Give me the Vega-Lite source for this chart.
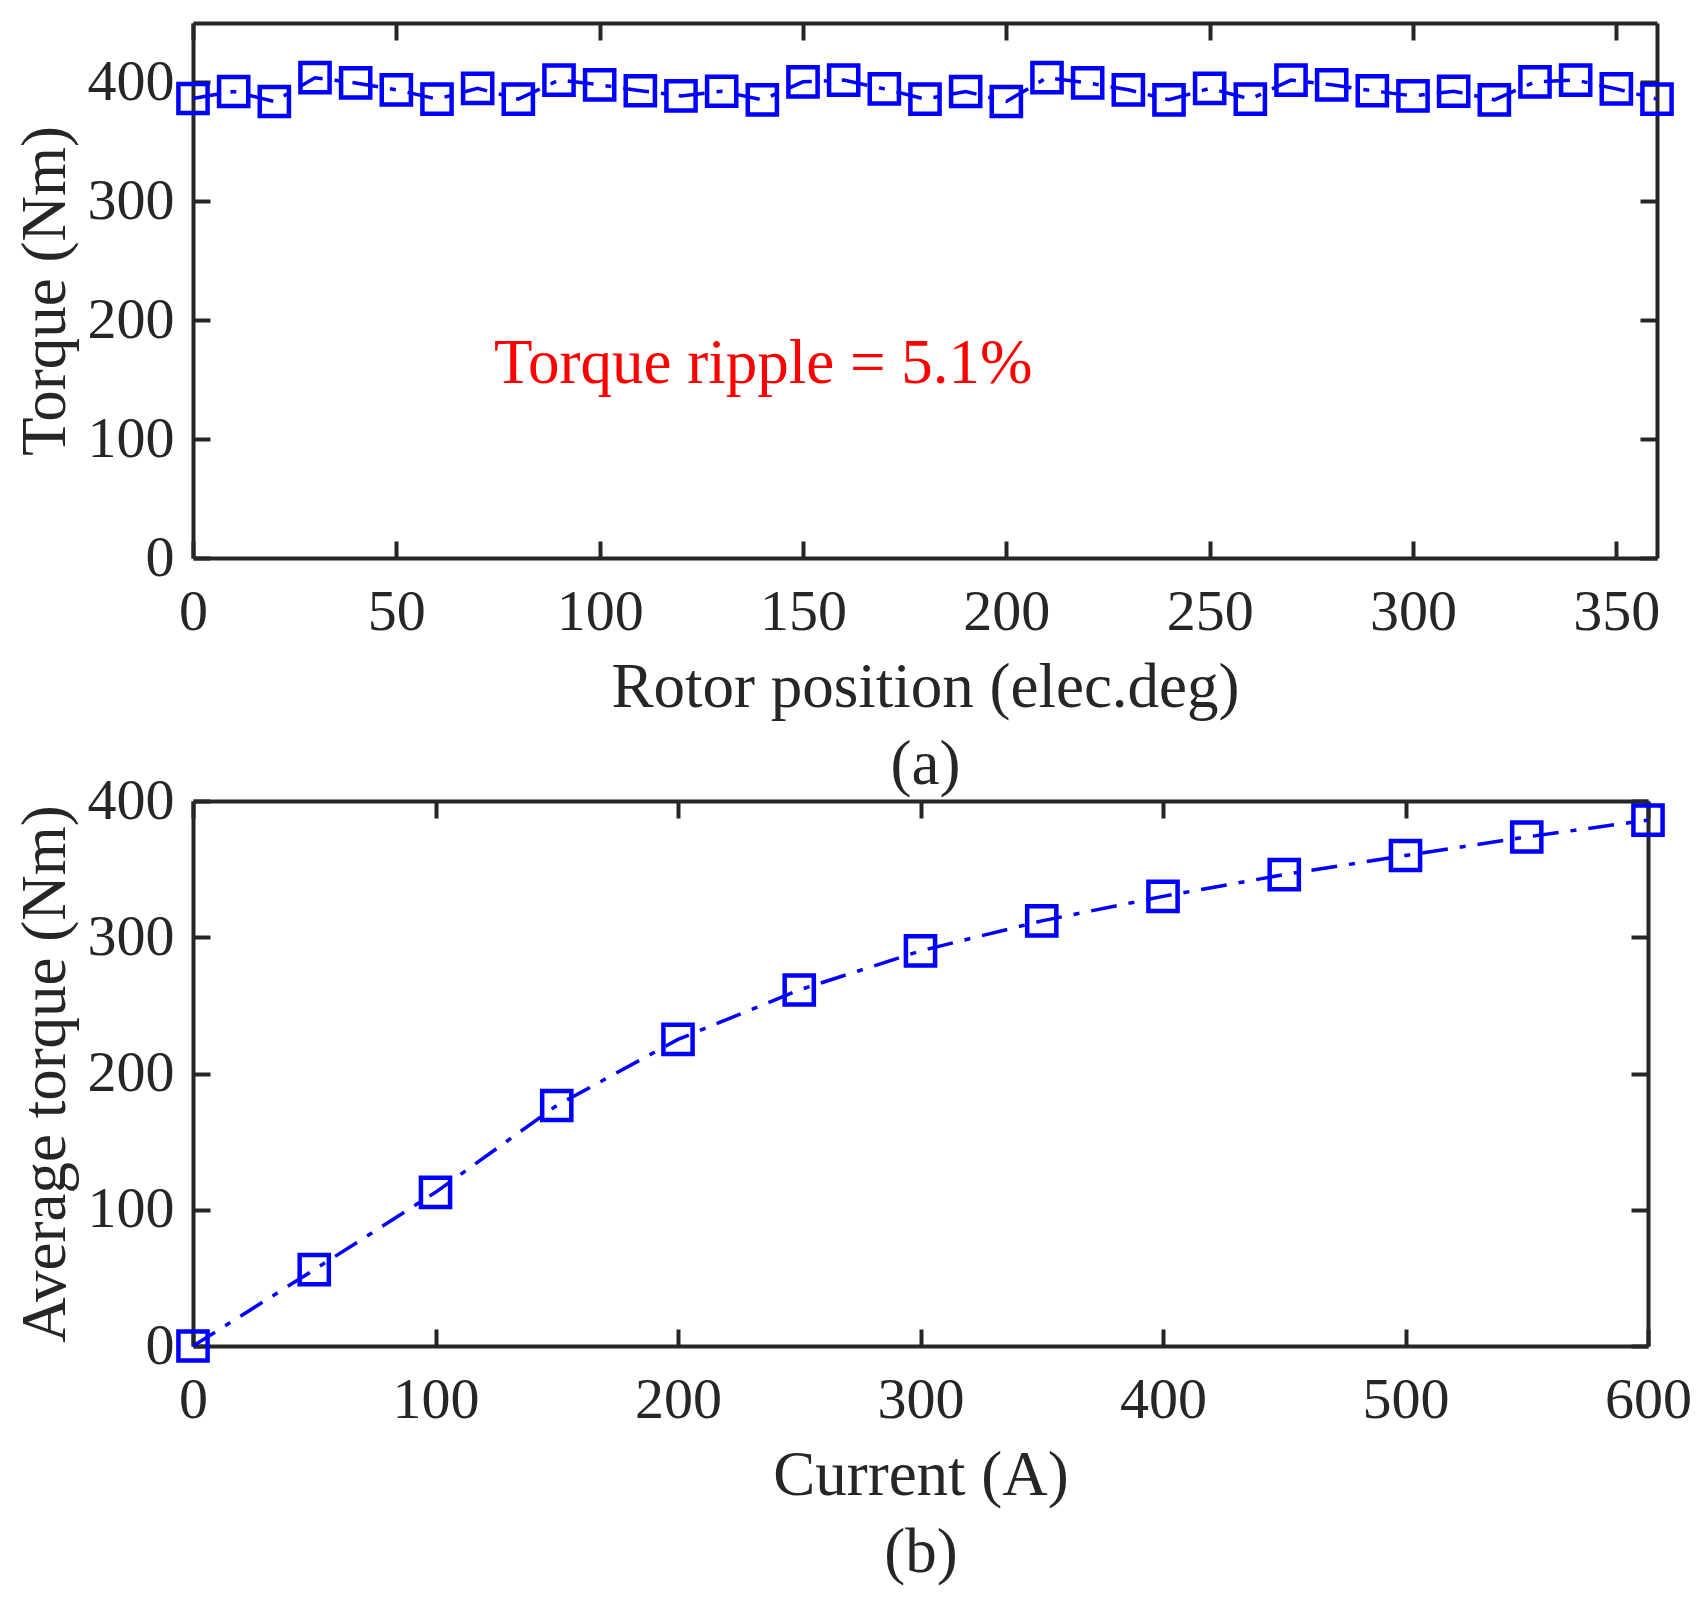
{
  "$schema": "https://vega.github.io/schema/vega-lite/v6.json",
  "background": "white",
  "padding": {"left": 13, "top": 21, "right": 4, "bottom": 5},
  "datasets": {
    "ripple": [
      {"position": 0, "torque": 386.5}, {"position": 10, "torque": 392.4},
      {"position": 20, "torque": 384}, {"position": 30, "torque": 404},
      {"position": 40, "torque": 399.6}, {"position": 50, "torque": 393.8},
      {"position": 60, "torque": 386}, {"position": 70, "torque": 395},
      {"position": 80, "torque": 386}, {"position": 90, "torque": 402},
      {"position": 100, "torque": 398}, {"position": 110, "torque": 393},
      {"position": 120, "torque": 388.7}, {"position": 130, "torque": 392.6},
      {"position": 140, "torque": 385.4}, {"position": 150, "torque": 400.5},
      {"position": 160, "torque": 402}, {"position": 170, "torque": 394.6},
      {"position": 180, "torque": 386}, {"position": 190, "torque": 392.4},
      {"position": 200, "torque": 384}, {"position": 210, "torque": 404},
      {"position": 220, "torque": 399.6}, {"position": 230, "torque": 393.8},
      {"position": 240, "torque": 385.4}, {"position": 250, "torque": 395},
      {"position": 260, "torque": 386}, {"position": 270, "torque": 402},
      {"position": 280, "torque": 398}, {"position": 290, "torque": 393},
      {"position": 300, "torque": 388.7}, {"position": 310, "torque": 392.6},
      {"position": 320, "torque": 385.4}, {"position": 330, "torque": 400.5},
      {"position": 340, "torque": 402}, {"position": 350, "torque": 394.6},
      {"position": 360, "torque": 386}
    ],
    "average": [
      {"current": 0, "torque": 0}, {"current": 50, "torque": 56},
      {"current": 100, "torque": 112.8}, {"current": 150, "torque": 176.5},
      {"current": 200, "torque": 225}, {"current": 250, "torque": 261.3},
      {"current": 300, "torque": 290}, {"current": 350, "torque": 312},
      {"current": 400, "torque": 330}, {"current": 450, "torque": 346},
      {"current": 500, "torque": 360}, {"current": 550, "torque": 373.6},
      {"current": 600, "torque": 386}
    ],
    "note": [
      {"x": 74, "y": 147, "label": "Torque ripple = 5.1%"}
    ]
  },
  "vconcat": [
    {
      "width": 1464,
      "height": 535,
      "layer": [
        {
          "data": {"name": "ripple"},
          "mark": {"type": "line", "color": "#0000FF", "strokeWidth": 3.5, "strokeDash": [26, 12, 6, 12]},
          "encoding": {
            "x": {
              "field": "position", "type": "quantitative",
              "scale": {"domain": [0, 360], "nice": false},
              "axis": {
                "values": [0, 50, 100, 150, 200, 250, 300, 350],
                "title": ["Rotor position (elec.deg)", "(a)"],
                "titleLineHeight": 77, "labelPadding": 42, "titlePadding": 15
              }
            },
            "y": {
              "field": "torque", "type": "quantitative",
              "scale": {"domain": [0, 450], "nice": false},
              "axis": {
                "values": [0, 100, 200, 300, 400],
                "title": "Torque (Nm)", "labelPadding": 36, "titlePadding": 10
              }
            }
          }
        },
        {
          "data": {"name": "ripple"},
          "mark": {"type": "point", "shape": "square", "filled": false, "color": "#0000FF", "size": 850, "strokeWidth": 4.5, "opacity": 1},
          "encoding": {
            "x": {
              "field": "position", "type": "quantitative",
              "scale": {"domain": [0, 360], "nice": false},
              "axis": {"orient": "top", "labels": false, "title": null, "values": [0, 50, 100, 150, 200, 250, 300, 350]}
            },
            "y": {
              "field": "torque", "type": "quantitative",
              "scale": {"domain": [0, 450], "nice": false},
              "axis": {"orient": "right", "labels": false, "title": null, "values": [0, 100, 200, 300, 400]}
            }
          }
        },
        {
          "data": {"name": "note"},
          "mark": {"type": "text", "color": "#FF0000", "fontSize": 63, "align": "left", "baseline": "alphabetic", "font": "Liberation Serif"},
          "encoding": {
            "x": {"field": "x", "type": "quantitative", "scale": {"domain": [0, 360], "nice": false}, "axis": null},
            "y": {"field": "y", "type": "quantitative", "scale": {"domain": [0, 450], "nice": false}, "axis": null},
            "text": {"field": "label"}
          }
        }
      ],
      "resolve": {"axis": {"x": "independent", "y": "independent"}}
    },
    {
      "width": 1455,
      "height": 545,
      "layer": [
        {
          "data": {"name": "average"},
          "mark": {"type": "line", "color": "#0000FF", "strokeWidth": 3.5, "strokeDash": [26, 12, 6, 12]},
          "encoding": {
            "x": {
              "field": "current", "type": "quantitative",
              "scale": {"domain": [0, 600], "nice": false},
              "axis": {
                "values": [0, 100, 200, 300, 400, 500, 600],
                "title": ["Current (A)", "(b)"],
                "titleLineHeight": 77, "labelPadding": 42, "titlePadding": 15
              }
            },
            "y": {
              "field": "torque", "type": "quantitative",
              "scale": {"domain": [0, 400], "nice": false},
              "axis": {
                "values": [0, 100, 200, 300, 400],
                "title": "Average torque (Nm)", "labelPadding": 36, "titlePadding": 10
              }
            }
          }
        },
        {
          "data": {"name": "average"},
          "mark": {"type": "point", "shape": "square", "filled": false, "color": "#0000FF", "size": 850, "strokeWidth": 4.5, "opacity": 1},
          "encoding": {
            "x": {
              "field": "current", "type": "quantitative",
              "scale": {"domain": [0, 600], "nice": false},
              "axis": {"orient": "top", "labels": false, "title": null, "values": [0, 100, 200, 300, 400, 500, 600]}
            },
            "y": {
              "field": "torque", "type": "quantitative",
              "scale": {"domain": [0, 400], "nice": false},
              "axis": {"orient": "right", "labels": false, "title": null, "values": [0, 100, 200, 300, 400]}
            }
          }
        }
      ],
      "resolve": {"axis": {"x": "independent", "y": "independent"}}
    }
  ],
  "spacing": 243,
  "bounds": "flush",
  "config": {
    "font": "Liberation Serif",
    "view": {"stroke": null},
    "axis": {
      "grid": false,
      "domainColor": "#262626",
      "domainWidth": 4,
      "tickColor": "#262626",
      "tickWidth": 4,
      "tickSize": -17,
      "labelColor": "#262626",
      "labelFont": "Liberation Serif",
      "labelFontSize": 58,
      "labelFlush": false,
      "labelOverlap": false,
      "titleColor": "#262626",
      "titleFont": "Liberation Serif",
      "titleFontSize": 63,
      "titleFontWeight": "normal"
    }
  }
}
